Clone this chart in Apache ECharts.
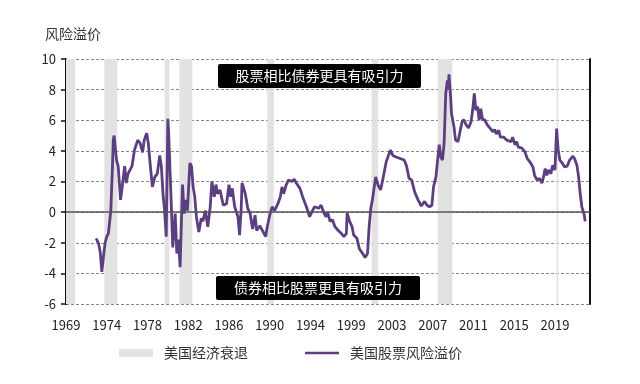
<!DOCTYPE html>
<html>
<head>
<meta charset="utf-8">
<script src="https://cdn.jsdelivr.net/npm/echarts@6/dist/echarts.min.js"></script>
<style>html,body{margin:0;padding:0;background:#fff;}#c{width:640px;height:384px;}</style>
</head>
<body>
<div id="c"></div>
<script>
// Monthly categories
var startYear = 1969, startMonth = 12, endYear = 2023, endMonth = 7;
var categories = [];
(function(){
  var y = startYear, m = startMonth;
  while (y < endYear || (y === endYear && m <= endMonth)) {
    categories.push(y + '-' + (m < 10 ? '0' + m : m));
    m++; if (m > 12) { m = 1; y++; }
  }
})();

var yTicks = [-6, -4, -2, 0, 2, 4, 6, 8, 10];

// Recession periods (start, end)
var recessions = [
  ['1969-12','1970-11'], ['1973-11','1975-03'], ['1980-01','1980-07'],
  ['1981-07','1982-11'], ['1990-07','1991-03'], ['2001-03','2001-11'],
  ['2007-12','2009-06'], ['2020-02','2020-04']
];

// Equity risk premium (date, value)
var erpDates = [
'1973-01','1973-04','1973-06','1973-08','1973-10','1973-12','1974-02','1974-04','1974-07','1974-09','1974-10','1974-11',
'1975-01','1975-02','1975-04','1975-07','1975-10','1975-12','1976-02','1976-04','1976-09','1976-12','1977-04','1977-07',
'1977-10','1977-12','1978-03','1978-05','1978-07','1978-10','1979-01','1979-04','1979-07','1979-09','1979-11','1980-01',
'1980-03','1980-05','1980-06','1980-09','1980-11','1981-02','1981-04','1981-06','1981-08','1981-11','1982-01','1982-03',
'1982-05','1982-08','1982-10','1982-12','1983-02','1983-04','1983-07','1983-10','1983-12','1984-03','1984-06','1984-09',
'1984-11','1985-02','1985-04','1985-06','1985-09','1986-01','1986-05','1986-08','1986-10','1986-12','1987-03','1987-07',
'1987-09','1987-11','1987-12','1988-04','1988-07','1988-10','1989-01','1989-04','1989-06','1989-10','1990-02','1990-05',
'1990-07','1990-10','1991-01','1991-04','1991-08','1991-11','1992-01','1992-03','1992-06','1992-09','1993-01','1993-04',
'1993-07','1993-11','1994-03','1994-07','1994-11','1995-02','1995-05','1995-10','1996-01','1996-05','1996-07','1996-09',
'1996-12','1997-03','1997-06','1997-10','1998-02','1998-05','1998-08','1998-09','1998-12','1999-03','1999-05','1999-09',
'1999-12','2000-04','2000-07','2000-10','2000-12','2001-02','2001-04','2001-06','2001-08','2001-11','2002-02','2002-05',
'2002-09','2002-11','2003-02','2003-05','2003-09','2004-02','2004-07','2004-10','2005-01','2005-04','2005-08','2005-12',
'2006-04','2006-08','2006-11','2007-02','2007-05','2007-07','2007-10','2007-12','2008-02','2008-04','2008-06','2008-08',
'2008-10','2008-12','2009-01','2009-02','2009-04','2009-05','2009-07','2009-08','2009-10','2010-01','2010-03','2010-06',
'2010-08','2010-11','2011-02','2011-05','2011-07','2011-09','2011-11','2012-01','2012-03','2012-05','2012-07','2012-10',
'2013-01','2013-04','2013-08','2013-10','2013-12','2014-03','2014-05','2014-09','2015-01','2015-06','2015-08','2015-11',
'2016-01','2016-03','2016-07','2016-11','2017-02','2017-05','2017-09','2017-11','2018-02','2018-05','2018-08','2018-10',
'2018-12','2019-02','2019-04','2019-07','2019-09','2019-12','2020-01','2020-02','2020-04','2020-06','2020-09','2020-12',
'2021-03','2021-06','2021-10','2021-12','2022-03','2022-05','2022-07','2022-09','2022-12','2023-01'
];
var erpValues = [
-1.72,-2.05,-2.6,-3.9,-2.9,-2.0,-1.6,-1.4,0.1,2.96,4.7,5.0,
5.0,3.4,3.0,0.8,2.1,3.0,1.9,2.5,3.0,4.05,4.7,4.5,
3.9,4.7,5.15,4.5,3.3,1.65,2.3,2.5,3.7,3.0,1.2,0.1,
-1.6,6.1,5.1,0.8,-2.3,-0.1,-2.7,-1.8,-3.6,1.8,-0.1,0.8,
0.1,3.2,3.0,1.65,1.0,-0.3,-1.3,-0.4,-0.6,0.1,-0.96,0.35,
2.0,1.0,1.8,1.2,1.45,0.45,0.55,1.8,1.0,1.55,0.35,-0.3,
-1.5,0.25,1.9,1.2,0.25,-0.1,-1.1,-0.2,-1.2,-0.9,-1.3,-1.6,
-0.95,-0.2,0.35,0.1,0.55,1.0,1.65,1.2,1.75,2.1,2.0,2.15,
1.87,1.55,0.9,0.35,-0.3,0.05,0.35,0.25,0.45,-0.1,-0.3,0.0,
-0.6,-0.5,-0.95,-1.2,-1.4,-1.6,-1.4,-0.05,-0.6,-0.95,-1.5,-1.7,
-2.4,-2.7,-2.96,-2.7,-0.95,0.24,0.8,0.7,2.3,1.75,1.45,2.2,
3.3,3.4,4.05,3.7,3.6,3.5,3.4,3.0,2.2,2.1,1.3,0.8,
0.4,0.7,0.45,0.35,0.45,1.65,2.3,3.4,4.4,3.6,3.4,4.5,
7.75,8.6,8.0,9.0,7.5,6.45,6.5,5.6,4.7,4.6,4.7,5.9,
6.05,5.7,5.5,5.9,6.65,7.75,6.65,6.9,6.0,6.75,6.1,6.0,
5.7,5.5,5.25,5.4,5.1,5.35,4.9,4.9,4.7,4.6,4.9,4.4,
4.6,4.25,4.2,3.95,3.5,3.3,2.95,2.4,2.1,2.2,1.9,2.3,
2.85,2.4,2.75,2.5,3.05,2.75,4.05,5.45,4.05,3.4,3.2,2.95,
3.0,3.4,3.65,3.5,3.05,2.3,1.2,0.35,-0.2,-0.6
];

var erpData = erpDates.map(function(d, i){ return [d, erpValues[i]]; });
var areaData = recessions.map(function(r){ return [{xAxis: r[0]}, {xAxis: r[1]}]; });

var FONT = '"Noto Sans CJK SC", "Noto Sans", sans-serif';
var chart = echarts.init(document.getElementById('c'), null, {renderer: 'canvas'});
chart.setOption({
  animation: false,
  textStyle: {fontFamily: FONT},
  grid: {left: 66, right: 50, top: 59, bottom: 80, containLabel: false},
  title: {text: '风险溢价', left: 40, top: 22, textStyle: {fontSize: 14, fontWeight: 'normal', color: '#333', fontFamily: FONT}},
  legend: {
    left: 114, top: 341, itemWidth: 34, itemHeight: 8, itemGap: 57,
    textStyle: {fontSize: 14, color: '#333', fontFamily: FONT, padding: [0, 0, 0, 6]},
    data: [
      {name: '美国经济衰退', icon: 'rect'},
      {name: '美国股票风险溢价', icon: 'path://M0,0H100V8H0Z'}
    ]
  },
  xAxis: {
    type: 'category', data: categories, boundaryGap: false,
    axisLine: {show: false}, axisTick: {show: false}, splitLine: {show: false},
    axisLabel: {interval: 49, color: '#222', fontSize: 13, margin: 15, fontFamily: FONT,
      formatter: function(v){ return v.slice(0, 4); }}
  },
  yAxis: [{
    type: 'value', min: yTicks[0], max: yTicks[yTicks.length - 1], interval: 2,
    axisLine: {show: true, lineStyle: {color: '#111', width: 2}},
    axisTick: {show: true, length: 5, lineStyle: {color: '#111', width: 1.5}},
    axisLabel: {color: '#222', fontSize: 13, margin: 10, fontFamily: FONT},
    splitLine: {show: true, lineStyle: {color: '#888', type: [3, 2], width: 1}}
  }, {
    type: 'value', position: 'right', min: yTicks[0], max: yTicks[yTicks.length - 1], interval: 2,
    axisLine: {show: true, lineStyle: {color: '#111', width: 2}},
    axisTick: {show: false}, axisLabel: {show: false}, splitLine: {show: false}
  }],
  series: [{
    name: '美国经济衰退', type: 'bar', data: [], z: 1,
    itemStyle: {color: '#e2e2e2'}
  }, {
    name: '美国股票风险溢价', type: 'line', data: erpData, symbol: 'none', showSymbol: false, z: 3,
    lineStyle: {color: '#5c3f80', width: 2.8}, itemStyle: {color: '#5c3f80'},
    markArea: {silent: true, itemStyle: {color: '#e2e2e2'}, data: areaData},
    markLine: {silent: true, symbol: 'none', label: {show: false},
      lineStyle: {color: '#555', type: 'solid', width: 1.5}, data: [{yAxis: 0}]}
  }],
  graphic: [{
    type: 'group', left: 218, top: 64, zlevel: 1, z: 100, children: [
      {type: 'rect', z: 100, shape: {x: 0, y: 0, width: 203, height: 24, r: 2}, style: {fill: '#000'}},
      {type: 'text', z: 101, x: 101.5, y: 12, style: {text: '股票相比债券更具有吸引力', fill: '#fff', font: '14px ' + FONT, align: 'center', verticalAlign: 'middle'}}
    ]
  }, {
    type: 'group', left: 216, top: 276, zlevel: 1, z: 100, children: [
      {type: 'rect', z: 100, shape: {x: 0, y: 0, width: 204, height: 24, r: 2}, style: {fill: '#000'}},
      {type: 'text', z: 101, x: 102, y: 12, style: {text: '债券相比股票更具有吸引力', fill: '#fff', font: '14px ' + FONT, align: 'center', verticalAlign: 'middle'}}
    ]
  }]
});
</script>
</body>
</html>
